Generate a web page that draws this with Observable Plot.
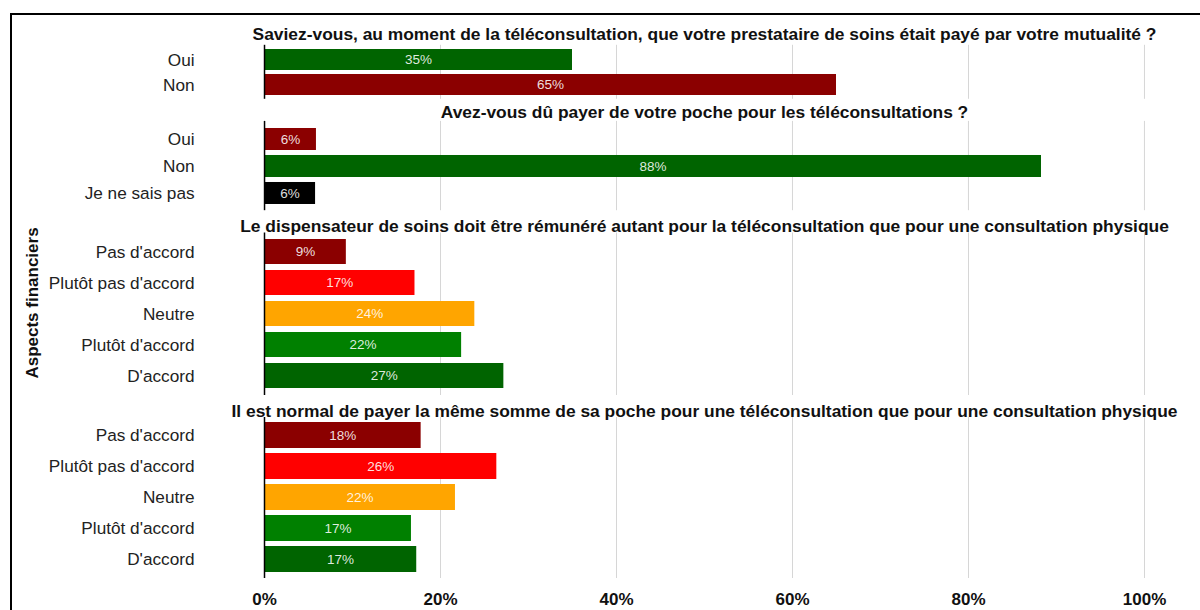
<!DOCTYPE html>
<html><head><meta charset="utf-8">
<script src="https://cdn.jsdelivr.net/npm/d3@7"></script>
<script src="https://cdn.jsdelivr.net/npm/@observablehq/plot@0.6"></script>
<style>
body{margin:0;background:#fff;font-family:"Liberation Sans",Arial,sans-serif;}
#wrap{position:relative;width:1200px;height:610px;overflow:hidden;background:#fff;}
.frame{position:absolute;left:10px;top:13px;width:1300px;height:700px;border-top:2px solid #000;border-left:2px solid #000;}
.panel{position:absolute;left:0;}
.panel svg{background:transparent !important;overflow:visible;}
.ylab{position:absolute;left:33px;top:303px;transform:translate(-50%,-50%) rotate(-90deg);font-weight:bold;font-size:17px;white-space:nowrap;color:#111;}
</style></head><body><div id="wrap"><div class="frame"></div><div class="ylab">Aspects financiers</div></div>
<script>
// ---- data ----
const titles = [
  "Saviez-vous, au moment de la téléconsultation, que votre prestataire de soins était payé par votre mutualité ?",
  "Avez-vous dû payer de votre poche pour les téléconsultations ?",
  "Le dispensateur de soins doit être rémunéré autant pour la téléconsultation que pour une consultation physique",
  "Il est normal de payer la même somme de sa poche pour une téléconsultation que pour une consultation physique"
];
const cats1 = ["Oui", "Non"];
const vals1 = [35.0, 65.0];
const cats2 = ["Oui", "Non", "Je ne sais pas"];
const vals2 = [5.9, 88.3, 5.8];
const cats3 = ["Pas d'accord", "Plutôt pas d'accord", "Neutre", "Plutôt d'accord", "D'accord"];
const vals3 = [9.3, 17.1, 23.9, 22.4, 27.2];
const cats4 = ["Pas d'accord", "Plutôt pas d'accord", "Neutre", "Plutôt d'accord", "D'accord"];
const vals4 = [17.8, 26.4, 21.7, 16.7, 17.3];
const cols1 = ["#006400", "#8b0000"];
const cols2 = ["#8b0000", "#006400", "#000000"];
const cols3 = ["#8b0000", "#ff0000", "#ffa500", "#008000", "#006400"];
const cols4 = ["#8b0000", "#ff0000", "#ffa500", "#008000", "#006400"];
const xTicks = [0, 20, 40, 60, 80, 100];

// ---- layout ----
const font = "'Liberation Sans', Arial, sans-serif";
const panels = [
  {title: titles[0], cats: cats1, vals: vals1, cols: cols1, titleY: 33.5, y0: 44.3, y1: 98.3, pad: 0.16, last: false},
  {title: titles[1], cats: cats2, vals: vals2, cols: cols2, titleY: 111.5, y0: 120.4, y1: 209.7, pad: 0.2, last: false},
  {title: titles[2], cats: cats3, vals: vals3, cols: cols3, titleY: 225.5, y0: 232, y1: 394.5, pad: 0.2, last: false},
  {title: titles[3], cats: cats4, vals: vals4, cols: cols4, titleY: 411, y0: 417, y1: 578, pad: 0.15, last: true}
];
const wrap = document.getElementById("wrap");
for (const p of panels) {
  const data = p.cats.map((c, i) => ({c, v: p.vals[i], col: p.cols[i]}));
  const top = p.titleY - 16;
  const mTop = p.y0 - top;
  const mBottom = p.last ? 610 - p.y1 : 2;
  const height = p.y1 - top + mBottom;
  const marks = [
    Plot.ruleX(xTicks.filter(d => d > 0), {stroke: "#d6d6d6", strokeWidth: 1}),
    Plot.barX(data, {x: "v", y: "c", fill: "col"}),
    Plot.text(data, {x: d => d.v / 2, y: "c", text: d => Math.round(d.v) + "%", fill: "#ffffff", fillOpacity: 0.88, fontSize: 13.5}),
    Plot.ruleX([0], {stroke: "#000", strokeWidth: 1.5}),
    Plot.axisY({tickSize: 0, tickPadding: 70, fontSize: 17.2, label: null, fill: "#222"}),
    Plot.text([p.title], {frameAnchor: "top", lineAnchor: "middle", dy: p.titleY - p.y0, fontWeight: "bold", fontSize: 17.4, fill: "#111"})
  ];
  if (p.last) marks.push(Plot.axisX({ticks: xTicks, tickFormat: d => d + "%", tickSize: 0, tickPadding: 14, fontSize: 17, fontWeight: "bold", label: null, fill: "#111"}));
  const chart = Plot.plot({
    width: 1200, height, marginLeft: 264, marginRight: 56, marginTop: mTop, marginBottom: mBottom,
    style: {background: "transparent", fontFamily: font},
    x: {domain: [0, 100], label: null, axis: p.last ? undefined : null},
    y: {domain: p.cats, padding: p.pad, label: null},
    color: {type: "identity"},
    marks
  });
  const div = document.createElement("div");
  div.className = "panel";
  div.style.top = top + "px";
  div.appendChild(chart);
  wrap.appendChild(div);
}
</script>
</body></html>
